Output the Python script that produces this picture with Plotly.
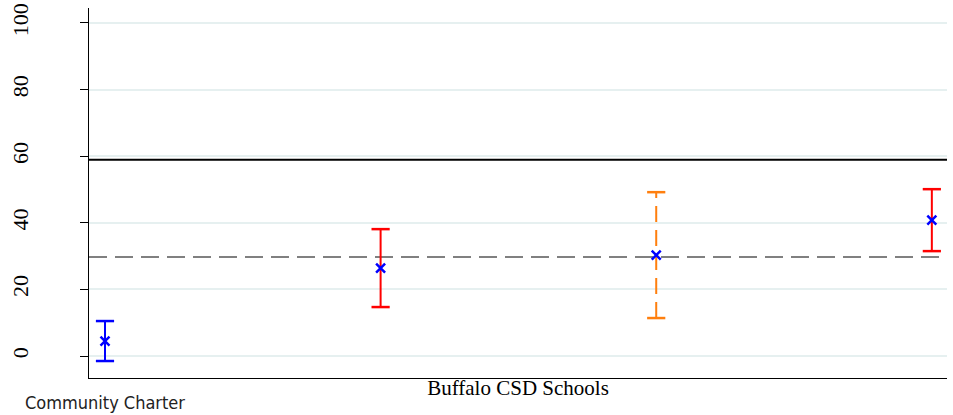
import plotly.graph_objects as go

SERIF = "Liberation Serif, Times New Roman, serif"
NARROW = "DejaVu Sans Condensed, Liberation Sans Narrow, Arial Narrow, sans-serif"

# schools along x (0 = Community Charter, then Buffalo CSD schools)
school_pos = [0, 1, 2, 3]
estimate = [4.5, 26.4, 30.3, 40.8]
ci_low = [-1.5, 14.7, 11.4, 31.5]
ci_high = [10.5, 38.1, 49.2, 50.1]

ref_values = [58.9, 29.7]

y_ticks = [0, 20, 40, 60, 80, 100]

# styling per school / per reference line
BAR_COLOR = ["blue", "red", "#ff7f0e", "red"]
BAR_DASH = ["solid", "solid", "16px,8px", "solid"]
REF_STYLE = [dict(color="black", width=2, dash="solid"),
             dict(color="#808080", width=2, dash="18px,8px")]

fig = go.Figure()

for i in range(len(school_pos)):
    fig.add_trace(go.Scatter(
        x=[school_pos[i], school_pos[i]], y=[ci_low[i], ci_high[i]],
        mode="lines+markers",
        line=dict(color=BAR_COLOR[i], width=2, dash=BAR_DASH[i]),
        marker=dict(symbol="line-ew", size=13, line=dict(color=BAR_COLOR[i], width=2.5)),
        showlegend=False, hoverinfo="skip"))

fig.add_trace(go.Scatter(
    x=school_pos, y=estimate, mode="markers",
    marker=dict(symbol="x-thin", size=9, line=dict(color="blue", width=2.5)),
    showlegend=False))

for v, st in zip(ref_values, REF_STYLE):
    fig.add_hline(y=v, line=st, layer="below")

fig.add_annotation(x=school_pos[0], y=0, xref="x", yref="paper", yshift=-12,
                   text="Community Charter", showarrow=False, yanchor="top",
                   font=dict(family=NARROW, size=18, color="#222"))

fig.update_layout(
    width=953, height=415,
    margin=dict(l=89, r=6, t=8, b=37, autoexpand=False),
    plot_bgcolor="white", paper_bgcolor="white",
    font=dict(family=SERIF, color="black"),
    xaxis=dict(range=[-0.058, 3.055], showgrid=False, zeroline=False,
               showline=True, linecolor="black", linewidth=1,
               showticklabels=False, ticks="", automargin=False,
               title=dict(text="Buffalo CSD Schools", standoff=2,
                          font=dict(family=SERIF, size=21))),
    yaxis=dict(range=[-6.6, 104.5], tickvals=y_ticks, tickangle=-90,
               tickfont=dict(family=SERIF, size=22), automargin=False,
               ticks="outside", ticklen=8, tickcolor="black",
               ticklabelstandoff=43,
               showline=True, linecolor="black", linewidth=1,
               gridcolor="#e6f0f0", gridwidth=1.5, zeroline=False),
)

# drop the browser's default body margin so the figure sits at the page corner
fig.write_html("out.html", config={"displayModeBar": False},
               post_script="document.body.style.margin='0';")
